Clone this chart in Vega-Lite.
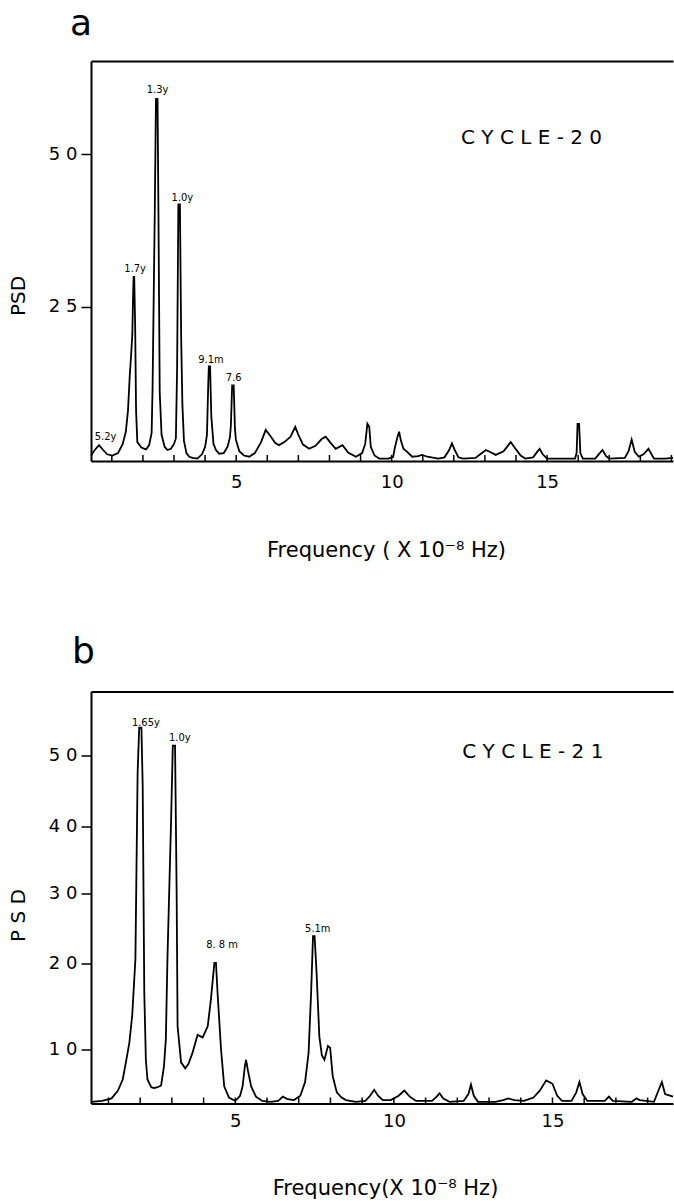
{
  "$schema": "https://vega.github.io/schema/vega-lite/v6.json",
  "padding": {"top": 6, "left": 8, "right": 0, "bottom": 0},
  "background": "white",
  "spacing": 73.5,
  "config": {
    "view": {"stroke": null},
    "axis": {"domainColor": "black", "domainWidth": 2, "tickColor": "black", "tickWidth": 1.5, "labelColor": "black", "titleColor": "black", "labelFont": "DejaVu Sans", "titleFont": "DejaVu Sans", "titleFontWeight": "normal", "grid": false, "labelFontSize": 18, "titleFontSize": 21}
  },
  "datasets": {
    "a": [
      {"f":0.33,"p":0.6},{"f":0.45,"p":1.5},{"f":0.59,"p":2.3},{"f":0.72,"p":1.5},{"f":0.85,"p":0.8},{"f":1.02,"p":0.6},{"f":1.2,"p":1.0},{"f":1.35,"p":2.5},{"f":1.45,"p":4.5},{"f":1.52,"p":8},{"f":1.58,"p":14},{"f":1.62,"p":17},{"f":1.66,"p":20.6},{"f":1.68,"p":26},{"f":1.7,"p":29.9},{"f":1.72,"p":29.9},{"f":1.75,"p":22},{"f":1.78,"p":8},{"f":1.82,"p":2.8},{"f":1.95,"p":1.9},{"f":2.1,"p":1.6},{"f":2.2,"p":2.3},{"f":2.28,"p":4.3},{"f":2.31,"p":11.6},{"f":2.38,"p":40},{"f":2.42,"p":59.1},{"f":2.47,"p":59.1},{"f":2.5,"p":40},{"f":2.54,"p":11},{"f":2.6,"p":4},{"f":2.7,"p":2},{"f":2.79,"p":1.5},{"f":2.9,"p":1.7},{"f":3.0,"p":2.5},{"f":3.06,"p":3.4},{"f":3.1,"p":15},{"f":3.14,"p":41.8},{"f":3.19,"p":41.8},{"f":3.23,"p":20},{"f":3.27,"p":8.9},{"f":3.32,"p":3},{"f":3.4,"p":1.0},{"f":3.49,"p":0.4},{"f":3.6,"p":0.2},{"f":3.75,"p":0.1},{"f":3.9,"p":0.8},{"f":4.0,"p":2.0},{"f":4.06,"p":4.0},{"f":4.1,"p":12},{"f":4.12,"p":15.2},{"f":4.16,"p":15.2},{"f":4.2,"p":7},{"f":4.27,"p":2.5},{"f":4.35,"p":1.5},{"f":4.45,"p":0.9},{"f":4.6,"p":1.0},{"f":4.72,"p":2.0},{"f":4.8,"p":3.6},{"f":4.83,"p":5.6},{"f":4.87,"p":12.1},{"f":4.92,"p":12.1},{"f":4.96,"p":5},{"f":4.99,"p":3.2},{"f":5.1,"p":1.3},{"f":5.25,"p":0.6},{"f":5.42,"p":0.4},{"f":5.6,"p":1.0},{"f":5.8,"p":2.8},{"f":5.95,"p":4.8},{"f":6.1,"p":3.8},{"f":6.25,"p":2.7},{"f":6.38,"p":2.3},{"f":6.55,"p":2.8},{"f":6.75,"p":3.7},{"f":6.9,"p":5.3},{"f":7.0,"p":4.0},{"f":7.15,"p":2.4},{"f":7.35,"p":1.7},{"f":7.55,"p":2.2},{"f":7.75,"p":3.3},{"f":7.88,"p":3.7},{"f":8.05,"p":2.6},{"f":8.2,"p":1.7},{"f":8.42,"p":2.3},{"f":8.6,"p":1.1},{"f":8.85,"p":0.4},{"f":9.05,"p":1.0},{"f":9.15,"p":2.5},{"f":9.22,"p":5.8},{"f":9.28,"p":5.3},{"f":9.33,"p":2.0},{"f":9.45,"p":0.6},{"f":9.6,"p":0.1},{"f":9.9,"p":0.1},{"f":10.05,"p":0.4},{"f":10.1,"p":1.8},{"f":10.18,"p":3.5},{"f":10.24,"p":4.5},{"f":10.3,"p":3.0},{"f":10.38,"p":1.7},{"f":10.5,"p":1.2},{"f":10.66,"p":0.4},{"f":10.85,"p":0.5},{"f":10.98,"p":0.7},{"f":11.15,"p":0.4},{"f":11.5,"p":0.1},{"f":11.7,"p":0.3},{"f":11.85,"p":1.5},{"f":11.94,"p":2.6},{"f":12.03,"p":1.5},{"f":12.15,"p":0.3},{"f":12.3,"p":0.1},{"f":12.7,"p":0.2},{"f":12.85,"p":0.8},{"f":13.03,"p":1.5},{"f":13.2,"p":1.1},{"f":13.35,"p":0.7},{"f":13.6,"p":1.3},{"f":13.83,"p":2.8},{"f":14.0,"p":1.6},{"f":14.15,"p":0.6},{"f":14.3,"p":0.1},{"f":14.55,"p":0.3},{"f":14.68,"p":1.2},{"f":14.76,"p":1.7},{"f":14.86,"p":0.8},{"f":15.0,"p":0.1},{"f":15.9,"p":0.1},{"f":15.95,"p":1.0},{"f":15.98,"p":5.8},{"f":16.03,"p":5.8},{"f":16.07,"p":1.0},{"f":16.15,"p":0.1},{"f":16.55,"p":0.1},{"f":16.68,"p":0.9},{"f":16.78,"p":1.5},{"f":16.9,"p":0.5},{"f":17.0,"p":0.1},{"f":17.5,"p":0.2},{"f":17.62,"p":1.3},{"f":17.72,"p":3.2},{"f":17.82,"p":1.2},{"f":17.95,"p":0.4},{"f":18.1,"p":0.8},{"f":18.26,"p":1.7},{"f":18.38,"p":0.6},{"f":18.44,"p":0.1},{"f":18.8,"p":0.1},{"f":19.05,"p":0.2}
    ],
    "b": [
      {"f":0.45,"p":3.9},{"f":0.8,"p":4.0},{"f":1.1,"p":4.3},{"f":1.3,"p":5.2},{"f":1.45,"p":6.5},{"f":1.55,"p":8.5},{"f":1.66,"p":10.8},{"f":1.75,"p":14},{"f":1.85,"p":20.6},{"f":1.92,"p":47.6},{"f":1.97,"p":53.9},{"f":2.04,"p":53.9},{"f":2.08,"p":45.7},{"f":2.13,"p":16.6},{"f":2.18,"p":8.8},{"f":2.23,"p":6.5},{"f":2.35,"p":5.6},{"f":2.44,"p":5.5},{"f":2.55,"p":5.6},{"f":2.66,"p":5.8},{"f":2.75,"p":8},{"f":2.81,"p":11.2},{"f":2.86,"p":20.6},{"f":2.97,"p":40},{"f":3.03,"p":51.4},{"f":3.1,"p":51.4},{"f":3.15,"p":30.1},{"f":3.18,"p":12.7},{"f":3.29,"p":8.5},{"f":3.42,"p":7.8},{"f":3.52,"p":8.3},{"f":3.65,"p":9.6},{"f":3.81,"p":11.7},{"f":3.97,"p":11.4},{"f":4.13,"p":12.7},{"f":4.23,"p":15.8},{"f":4.34,"p":20.1},{"f":4.39,"p":20.1},{"f":4.44,"p":16.6},{"f":4.55,"p":10},{"f":4.65,"p":5.7},{"f":4.8,"p":4.4},{"f":5.0,"p":4.0},{"f":5.15,"p":4.6},{"f":5.23,"p":5.7},{"f":5.3,"p":8.0},{"f":5.34,"p":8.8},{"f":5.4,"p":7.5},{"f":5.5,"p":5.7},{"f":5.65,"p":4.5},{"f":5.85,"p":4.0},{"f":6.1,"p":3.9},{"f":6.35,"p":4.0},{"f":6.5,"p":4.5},{"f":6.65,"p":4.2},{"f":6.85,"p":4.1},{"f":7.05,"p":4.6},{"f":7.2,"p":6.2},{"f":7.31,"p":9.6},{"f":7.39,"p":16.6},{"f":7.45,"p":23.9},{"f":7.5,"p":23.9},{"f":7.56,"p":19.1},{"f":7.65,"p":11.5},{"f":7.73,"p":9.3},{"f":7.81,"p":8.8},{"f":7.92,"p":10.4},{"f":7.99,"p":10.2},{"f":8.07,"p":6.9},{"f":8.2,"p":5},{"f":8.35,"p":4.4},{"f":8.49,"p":4.1},{"f":8.8,"p":3.9},{"f":9.1,"p":4.0},{"f":9.25,"p":4.6},{"f":9.38,"p":5.3},{"f":9.5,"p":4.6},{"f":9.65,"p":4.1},{"f":9.9,"p":4.1},{"f":10.15,"p":4.6},{"f":10.33,"p":5.2},{"f":10.5,"p":4.5},{"f":10.7,"p":4.0},{"f":11.2,"p":4.0},{"f":11.35,"p":4.5},{"f":11.44,"p":4.9},{"f":11.55,"p":4.3},{"f":11.75,"p":3.9},{"f":12.2,"p":4.0},{"f":12.35,"p":4.8},{"f":12.43,"p":5.9},{"f":12.52,"p":4.6},{"f":12.65,"p":3.9},{"f":13.2,"p":3.9},{"f":13.45,"p":4.1},{"f":13.6,"p":4.3},{"f":13.8,"p":4.1},{"f":14.1,"p":4.0},{"f":14.4,"p":4.4},{"f":14.6,"p":5.2},{"f":14.8,"p":6.4},{"f":15.0,"p":6.0},{"f":15.15,"p":4.6},{"f":15.3,"p":4.0},{"f":15.6,"p":4.0},{"f":15.75,"p":5.0},{"f":15.85,"p":6.2},{"f":15.95,"p":4.8},{"f":16.1,"p":4.0},{"f":16.65,"p":4.0},{"f":16.78,"p":4.5},{"f":16.9,"p":4.0},{"f":17.5,"p":3.9},{"f":17.65,"p":4.3},{"f":17.75,"p":4.1},{"f":18.2,"p":3.9},{"f":18.35,"p":5.3},{"f":18.45,"p":6.2},{"f":18.55,"p":4.8},{"f":18.8,"p":4.5}
    ],
    "ticks": [{"f":1},{"f":2},{"f":3},{"f":4},{"f":5},{"f":6},{"f":7},{"f":8},{"f":9},{"f":10},{"f":11},{"f":12},{"f":13},{"f":14},{"f":15},{"f":16},{"f":17},{"f":18},{"f":19}],
    "la": [
      {"f":2.47,"p":60.6,"t":"1.3y"},{"f":3.27,"p":42.8,"t":"1.0y"},{"f":1.75,"p":31.2,"t":"1.7y"},{"f":4.19,"p":16.2,"t":"9.1m"},{"f":4.92,"p":13.3,"t":"7.6"},{"f":0.8,"p":3.6,"t":"5.2y"}
    ],
    "lb": [
      {"f":2.18,"p":54.6,"t":"1.65y"},{"f":3.25,"p":52.4,"t":"1.0y"},{"f":4.58,"p":22.6,"t":"8. 8 m"},{"f":7.6,"p":25.0,"t":"5.1m"}
    ],
    "ca": [{"f":14.5,"p":52.7,"t":"C Y C L E - 2 0"}],
    "cb": [{"f":14.38,"p":50.5,"t":"C Y C L E - 2 1"}]
  },
  "vconcat": [
    {
      "width": 582,
      "height": 400,
      "title": {"text": "a", "anchor": "start", "frame": "group", "fontSize": 36, "fontWeight": "normal", "font": "DejaVu Sans", "baseline": "alphabetic", "offset": -10, "dx": -21, "color": "black"},
      "layer": [
        {
          "data": {"name": "a"},
          "mark": {"type": "line", "color": "black", "strokeWidth": 1.8},
          "encoding": {
            "x": {"field": "f", "type": "quantitative", "scale": {"domain": [0.33, 19.05], "nice": false, "zero": false},
                  "axis": {"orient": "bottom", "values": [5, 10, 15], "ticks": false, "labelPadding": 12, "labelOverlap": false, "title": "Frequency ( X 10⁻⁸ Hz)", "titleX": 295, "titleY": 95, "titleBaseline": "alphabetic"}},
            "y": {"field": "p", "type": "quantitative", "scale": {"domain": [-0.3, 65.3], "nice": false, "zero": false},
                  "axis": {"values": [25, 50], "tickSize": 10, "labelPadding": 4, "labelExpr": "join(split(datum.label, ''), ' ')", "title": "PSD", "titleFontSize": 20, "titleX": -66.7, "titleY": 234.5, "titleBaseline": "alphabetic"}}
          }
        },
        {
          "data": {"name": "ticks"},
          "mark": {"type": "rule", "color": "black", "strokeWidth": 1.5},
          "encoding": {
            "x": {"field": "f", "type": "quantitative", "axis": null},
            "y": {"datum": -0.3},
            "y2": {"datum": 0.7}
          }
        },
        {
          "data": {"name": "la"},
          "mark": {"type": "text", "font": "DejaVu Sans Condensed", "fontSize": 11, "color": "black", "baseline": "middle", "align": "center"},
          "encoding": {
            "x": {"field": "f", "type": "quantitative", "axis": null},
            "y": {"field": "p", "type": "quantitative"},
            "text": {"field": "t"}
          }
        },
        {
          "data": {"name": "ca"},
          "mark": {"type": "text", "font": "DejaVu Sans", "fontSize": 20, "color": "black", "baseline": "middle", "align": "center"},
          "encoding": {
            "x": {"field": "f", "type": "quantitative", "axis": {"orient": "top", "labels": false, "ticks": false, "title": null, "domainWidth": 2, "minExtent": 0, "maxExtent": 0}},
            "y": {"field": "p", "type": "quantitative"},
            "text": {"field": "t"}
          }
        }
      ]
    },
    {
      "width": 582,
      "height": 412,
      "title": {"text": "b", "anchor": "start", "frame": "group", "fontSize": 36, "fontWeight": "normal", "font": "DejaVu Sans", "baseline": "alphabetic", "offset": -7, "dx": -19, "color": "black"},
      "layer": [
        {
          "data": {"name": "b"},
          "mark": {"type": "line", "color": "black", "strokeWidth": 1.8},
          "encoding": {
            "x": {"field": "f", "type": "quantitative", "scale": {"domain": [0.45, 18.8], "nice": false, "zero": false},
                  "axis": {"orient": "bottom", "values": [5, 10, 15], "ticks": false, "labelPadding": 9, "labelOverlap": false, "title": "Frequency(X 10⁻⁸ Hz)", "titleX": 294, "titleY": 91, "titleBaseline": "alphabetic"}},
            "y": {"field": "p", "type": "quantitative", "scale": {"domain": [3.7, 10, 20, 30, 40, 50, 59], "range": [412, 358, 272, 202, 135, 64, 0], "nice": false, "zero": false},
                  "axis": {"values": [10, 20, 30, 40, 50], "tickSize": 10, "labelPadding": 4, "labelExpr": "join(split(datum.label, ''), ' ')", "title": "P S D", "titleFontSize": 20, "titleX": -66.7, "titleY": 223.5, "titleBaseline": "alphabetic"}}
          }
        },
        {
          "data": {"name": "ticks"},
          "transform": [{"filter": "datum.f < 19"}],
          "mark": {"type": "rule", "color": "black", "strokeWidth": 1.5},
          "encoding": {
            "x": {"field": "f", "type": "quantitative", "axis": null},
            "y": {"datum": 3.7},
            "y2": {"datum": 4.4}
          }
        },
        {
          "data": {"name": "lb"},
          "mark": {"type": "text", "font": "DejaVu Sans Condensed", "fontSize": 11, "color": "black", "baseline": "middle", "align": "center"},
          "encoding": {
            "x": {"field": "f", "type": "quantitative", "axis": null},
            "y": {"field": "p", "type": "quantitative"},
            "text": {"field": "t"}
          }
        },
        {
          "data": {"name": "cb"},
          "mark": {"type": "text", "font": "DejaVu Sans", "fontSize": 20, "color": "black", "baseline": "middle", "align": "center"},
          "encoding": {
            "x": {"field": "f", "type": "quantitative", "axis": {"orient": "top", "labels": false, "ticks": false, "title": null, "domainWidth": 2, "minExtent": 0, "maxExtent": 0}},
            "y": {"field": "p", "type": "quantitative"},
            "text": {"field": "t"}
          }
        }
      ]
    }
  ]
}
